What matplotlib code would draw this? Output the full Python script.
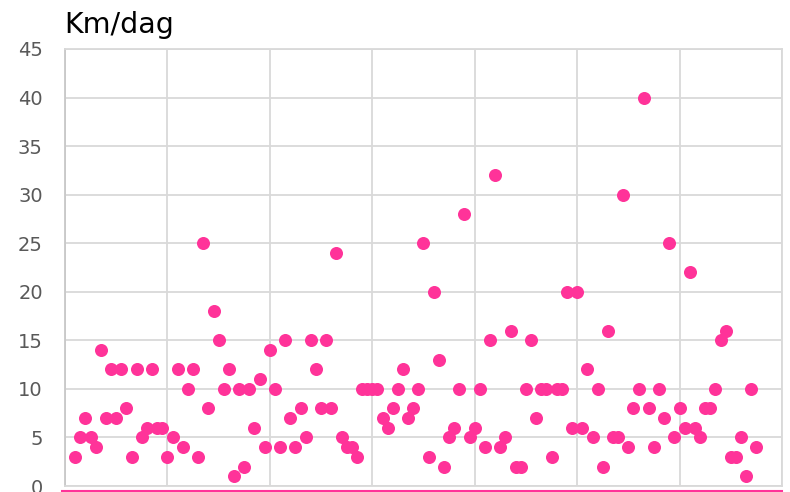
import matplotlib
matplotlib.use("Agg")
import matplotlib.pyplot as plt
from matplotlib.lines import Line2D

# Km per dag, een punt per dag
km = [3, 5, 7, 5, 4, 14, 7, 12, 7, 12, 8, 3, 12, 5, 6, 12, 6, 6, 3, 5,
      12, 4, 10, 12, 3, 25, 8, 18, 15, 10, 12, 1, 10, 2, 10, 6, 11, 4, 14, 10,
      4, 15, 7, 4, 8, 5, 15, 12, 8, 15, 8, 24, 5, 4, 4, 3, 10, 10, 10, 10,
      7, 6, 8, 10, 12, 7, 8, 10, 25, 3, 20, 13, 2, 5, 6, 10, 28, 5, 6, 10,
      4, 15, 32, 4, 5, 16, 2, 2, 10, 15, 7, 10, 10, 3, 10, 10, 20, 6, 20, 6,
      12, 5, 10, 2, 16, 5, 5, 30, 4, 8, 10, 40, 8, 4, 10, 7, 25, 5, 8, 6,
      22, 6, 5, 8, 8, 10, 15, 16, 3, 3, 5, 1, 10, 4]
dag = list(range(2, 2 + len(km)))

y_ticks = [0, 5, 10, 15, 20, 25, 30, 35, 40, 45]
x_ticks = [0, 20, 40, 60, 80, 100, 120, 140]

PINK = "#FF3399"
GRID = "#D9D9D9"

fig = plt.figure(figsize=(7.9, 4.92), dpi=100)
ax = fig.add_axes([65 / 790, 1 - 486 / 492, (782 - 65) / 790, (486 - 49) / 492])

ax.scatter(dag, km, s=88, color=PINK, linewidths=0, zorder=3)

ax.set_xlim(0, 140)
ax.set_ylim(0, 45)
ax.set_xticks(x_ticks)
ax.set_yticks(y_ticks)
ax.set_xticklabels([])
ax.tick_params(axis="both", length=0)
ax.tick_params(axis="y", labelsize=14, labelcolor="#595959", pad=16)
ax.grid(True, color=GRID, linewidth=1.3, zorder=0)
ax.set_axisbelow(True)
for side in ["top", "right", "bottom"]:
    ax.spines[side].set_color(GRID)
    ax.spines[side].set_linewidth(1.3)
ax.spines["left"].set_color("#C8C8C8")
ax.spines["left"].set_linewidth(1.3)

# titel
fig.text(64 / 790, 1 - 33 / 492, "Km/dag", fontsize=20.5, color="#000000",
         ha="left", va="baseline")

# roze lijn onderaan
fig.add_artist(Line2D([62 / 790, 782 / 790], [1 - 491 / 492, 1 - 491 / 492],
                      color=PINK, linewidth=1.5, transform=fig.transFigure))

fig.savefig("out.png", dpi=100)
